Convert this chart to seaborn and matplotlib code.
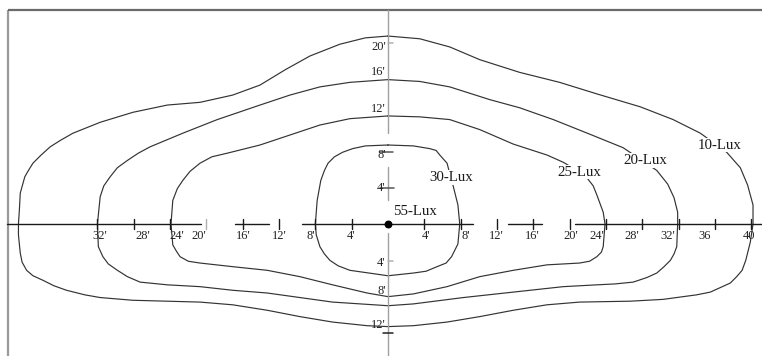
import numpy as np
import pandas as pd
import matplotlib
matplotlib.use('Agg')
import matplotlib.pyplot as plt
import seaborn as sns

# isolux contours, coordinates in feet from the fixture (x along the road, y across)
lux10_x = [0, 3.5, 6.8, 10.1, 14.5, 18.9, 23.1, 27.8, 31.4, 34.4, 37.3, 38.8, 39.6, 40.2, 40.2,
           39.9, 39.4, 39.0, 38.4, 37.7, 36.6, 35.5, 34.0, 30.3, 26.7, 21.1, 17.5, 13.8, 10.1, 6.5, 2.8, 0,
           -2.3, -6.1, -9.7, -13.3, -17.1, -20.7, -28.1, -31.7, -33.4, -35.4, -36.8, -38.0, -39.1, -39.8,
           -40.3, -40.5, -40.7, -40.7,
           -40.6, -40.5, -40.0, -39.6, -39.1, -38.2, -37.2, -36.1, -34.7, -31.7, -28.1, -24.3, -20.7,
           -17.1, -14.1, -11.3, -8.6, -5.3, -2.5]
lux10_y = [20.7, 20.4, 19.5, 18.1, 16.7, 15.6, 14.3, 12.9, 11.5, 10.0, 7.9, 6.2, 4.3, 2.1, 0,
           -2.0, -4.0, -5.1, -5.8, -6.5, -7.0, -7.5, -7.8, -8.3, -8.5, -8.6, -8.9, -9.5, -10.2, -10.8, -11.2, -11.3,
           -11.2, -10.8, -10.2, -9.5, -8.9, -8.6, -8.4, -8.1, -7.8, -7.3, -6.8, -6.2, -5.7, -5.1,
           -4.2, -3.2, -1.2, 0,
           1.5, 3.4, 5.2, 5.9, 6.7, 7.6, 8.5, 9.2, 10.0, 11.2, 12.3, 13.1, 13.4,
           14.2, 15.3, 17.0, 18.5, 19.8, 20.5]

lux20_x = [0, 3.5, 6.8, 11.2, 14.5, 18.2, 22.2, 25.9, 29.6, 30.8, 31.5, 31.9, 31.9,
           31.8, 31.5, 31.1, 30.4, 29.6, 28.5, 27.0, 25.0, 23.0, 19.3, 13.8, 8.3, 2.8, 0,
           -6.1, -9.7, -13.3, -17.1, -20.7, -24.3, -27.3, -28.7, -29.8, -30.8, -31.4, -31.9, -32.0,
           -31.7, -31.3, -30.6, -29.8, -28.7, -27.5, -26.2, -22.6, -18.8, -14.1, -10.8, -7.5, -4.2]
lux20_y = [15.9, 15.7, 15.1, 13.7, 12.8, 11.5, 9.9, 8.4, 5.9, 4.4, 2.9, 1.3, 0,
           -2.5, -3.3, -4.0, -4.7, -5.4, -5.9, -6.4, -6.6, -6.7, -6.9, -7.5, -8.1, -8.8, -9.0,
           -8.6, -8.1, -7.6, -7.3, -6.9, -6.7, -6.4, -5.8, -5.1, -4.4, -3.6, -2.5, 0,
           3.0, 4.2, 5.2, 6.2, 7.0, 7.8, 8.5, 10.0, 11.5, 13.1, 14.2, 15.1, 15.6]

lux25_x = [0, 3.5, 6.8, 10.1, 13.8, 17.5, 19.3, 20.8, 21.9, 22.6, 23.0, 23.7, 23.9,
           23.7, 23.5, 23.0, 22.2, 21.1, 17.5, 13.8, 10.1, 6.5, 2.8, 0,
           -2.3, -6.1, -9.7, -13.3, -17.1, -20.7, -22.0, -22.9, -23.3, -23.7, -23.9,
           -23.7, -23.2, -22.6, -21.8, -20.7, -19.4, -17.7, -14.1, -10.8, -7.5, -4.2]
lux25_y = [11.9, 11.8, 11.5, 10.4, 8.8, 7.6, 6.8, 5.9, 5.1, 4.2, 3.2, 1.3, 0,
           -2.5, -3.1, -3.6, -4.1, -4.3, -4.5, -5.1, -5.8, -6.9, -7.7, -8.0,
           -7.6, -6.7, -5.8, -5.1, -4.7, -4.3, -4.1, -3.6, -3.0, -2.3, 0,
           2.6, 3.9, 4.8, 5.8, 6.7, 7.4, 7.8, 8.7, 9.8, 10.9, 11.6]

lux30_x = [0, 2.8, 4.6, 5.3, 5.7, 6.5, 7.2, 7.7, 7.9, 7.7, 7.0, 6.4, 5.4, 4.2, 2.8, 0,
           -4.2, -5.5, -6.4, -7.0, -7.5, -7.9, -8.0, -7.8, -7.4, -7.0, -6.6, -5.9, -5.0, -3.9, -2.5]
lux30_y = [8.7, 8.6, 8.3, 8.1, 7.6, 6.7, 4.1, 2.1, 0, -2.2, -3.6, -4.3, -4.7, -5.2, -5.4, -5.7,
           -5.1, -4.6, -4.0, -3.3, -2.5, -1.2, 0, 2.6, 4.8, 5.9, 6.7, 7.4, 7.9, 8.3, 8.6]

lux_names = ['10-Lux', '20-Lux', '25-Lux', '30-Lux']
lux_label_xy = [(36.5, 8.7), (28.3, 7.0), (21.1, 5.7), (7.0, 5.1)]

# distance marks along the road (feet)
road_ticks = [-32, -28, -24, -20, -16, -12, -8, -4, 4, 8, 12, 16, 20, 24, 28, 32, 36, 40]
road_labels = ["32'", "28'", "24'", "20'", "16'", "12'", "8'", "4'",
               "4'", "8'", "12'", "16'", "20'", "24'", "28'", "32'", "36", "40"]
# distance marks across the road (feet)
cross_ticks = [19.5, 16.7, 12.7, 7.6, 4.0, -4.3, -7.4, -11.1]
cross_labels = ["20'", "16'", "12'", "8'", "4'", "4'", "8'", "12'"]

PX = 9.08  # pixels per foot

sns.set_style('white')
plt.rcParams['font.family'] = ['Liberation Serif', 'DejaVu Serif']

fig = plt.figure(figsize=(7.62, 3.56), dpi=100)
ax = fig.add_axes([0, 0, 1, 1])
ax.set_xlim(-388 / PX, 374 / PX)
ax.set_ylim(-132 / PX, 224 / PX)
ax.axis('off')

# frame
xl = -380 / PX
yt = 214 / PX
ax.plot([xl, xl], [-20, yt], color='#9a9a9a', lw=1.6, solid_capstyle='butt')
ax.plot([xl, 50], [yt, yt], color='#6a6a6a', lw=1.6, solid_capstyle='butt')

# contours
frames = []
for name, xs, ys in zip(lux_names, [lux10_x, lux20_x, lux25_x, lux30_x],
                        [lux10_y, lux20_y, lux25_y, lux30_y]):
    xs = list(xs) + [xs[0]]
    ys = list(ys) + [ys[0]]
    frames.append(pd.DataFrame({'x': xs, 'y': ys, 'level': name}))
df = pd.concat(frames, ignore_index=True)
sns.lineplot(data=df, x='x', y='y', units='level', estimator=None, sort=False,
             color='#333333', linewidth=0.85, ax=ax, legend=False)

# road axis (broken dimension line)
segs = [(-381 / PX, -20.6), (-16.9, -13.1), (-9.5, 0), (0, 9.4), (13.2, 17.0), (20.6, 50)]
for a, b in segs:
    ax.plot([a, b], [0, 0], color='#1a1a1a', lw=1.0, zorder=3)
for t in road_ticks:
    c = '#b0b0b0' if t == -20 else '#1a1a1a'
    ax.plot([t, t], [-0.55, 0.6], color=c, lw=1.0, zorder=3)

# label offsets (px) as in the drawing
lab_off = [2, 9, 7, -8, 1, 0, -5, -1, 2, 5, -1, -1, 1, -9, -10, -11, -10, -2]
for t, lab, off in zip(road_ticks, road_labels, lab_off):
    ax.text(t + off / PX, -1.35, lab, ha='center', va='center', fontsize=9, color='#222', zorder=4)

# cross axis (vertical, gray, broken)
vsegs = [(23.6, 10.0), (6.3, 2.6), (-1.0, -15)]
for a, b in vsegs:
    ax.plot([0, 0], [a, b], color='#a0a0a0', lw=1.0, zorder=2)
vt = [(19.9, 0.0, 0.55, '#b0b0b0'), (7.9, -0.9, 0.55, '#555555'), (4.0, -0.9, 0.7, '#555555'),
      (-4.1, 0.0, 0.55, '#b0b0b0'), (-12.0, -0.6, 0.55, '#222222')]
for y, a, b, c in vt:
    ax.plot([a, b], [y, y], color=c, lw=1.1, zorder=3)
for y, lab in zip(cross_ticks, cross_labels):
    ax.text(-0.25, y, lab, ha='right', va='center', fontsize=9, color='#222', zorder=4)

# luminaire position
ax.scatter([0], [0], s=22, color='black', zorder=5)
ax.text(0.55, 1.4, '55-Lux', ha='left', va='center', fontsize=10.7, color='#1a1a1a', zorder=6)

for name, (lx, ly) in zip(lux_names, lux_label_xy):
    ax.text(lx, ly, name, ha='center', va='center', fontsize=10.7, color='#1a1a1a', zorder=6,
            bbox=dict(boxstyle='square,pad=0.05', fc='white', ec='none'))

fig.savefig('out.png', dpi=100)
